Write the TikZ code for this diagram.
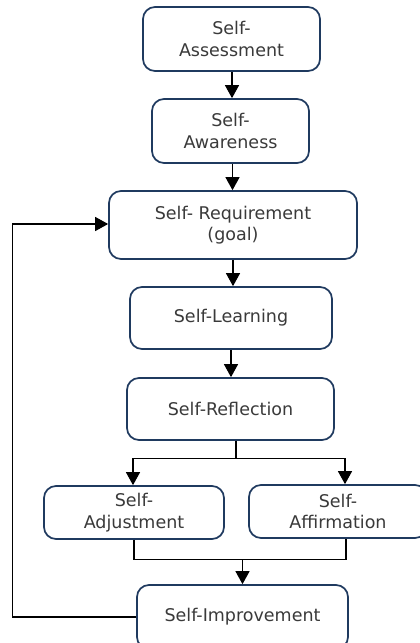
\documentclass[tikz,border=0pt]{standalone}
\usepackage{fontspec}
\setmainfont{DejaVu Sans}
\usetikzlibrary{arrows.meta}
\definecolor{boxline}{HTML}{1F3A5F}
\definecolor{txt}{HTML}{3A3A3A}
\begin{document}
\begin{tikzpicture}[x=1pt,y=-1pt,
  box/.style={draw=boxline, line width=1.7pt, rounded corners=12pt, fill=white,
    align=center, text=txt, font=\fontsize{17.5}{21.5}\selectfont, inner sep=0pt},
  arr/.style={draw=black, line width=1.2pt, -{Triangle[width=14pt,length=13pt]}},
  ln/.style={draw=black, line width=1.2pt}]
\useasboundingbox (0,0) rectangle (420,643);
\clip (0,0) rectangle (420,643);
\fill[white] (0,0) rectangle (420,643);
\node[box, minimum width=177pt, minimum height=64pt] (b1) at (231.5,39) {Self-\\Assessment};
\node[box, minimum width=157pt, minimum height=64pt] (b2) at (230.5,131) {Self-\\Awareness};
\node[box, minimum width=248pt, minimum height=68pt] (b3) at (233,225) {Self- Requirement\\(goal)};
\node[box, minimum width=202pt, minimum height=62pt] (b4) at (231,318) {Self-Learning};
\node[box, minimum width=207pt, minimum height=62pt] (b5) at (230.5,409) {Self-Reflection};
\node[box, minimum width=180pt, minimum height=53pt] (b6) at (134,512.5) {Self-\\Adjustment};
\node[box, minimum width=178pt, minimum height=53pt] (b7) at (338,511.5) {Self-\\Affirmation};
\node[box, minimum width=211pt, minimum height=64pt] (b8) at (242.5,617) {Self-Improvement};
\draw[arr] ([xshift=0.5pt]b1.south) -- ([xshift=0.5pt]b1.south |- b2.north);
\draw[arr] ([xshift=2pt]b2.south) -- ([xshift=2pt]b2.south |- b3.north);
\draw[arr] (b3.south) -- (b3.south |- b4.north);
\draw[arr] (b4.south) -- (b4.south |- b5.north);
\draw[ln] ([xshift=5.5pt]b5.south) -- ++(0,18) coordinate (s);
\draw[arr] (s) -| ([xshift=-1pt]b6.north);
\draw[arr] (s) -| ([xshift=7pt]b7.north);
\draw[ln] (b6.south) -- ++(0,20) coordinate (m) -| ([xshift=8pt]b7.south);
\coordinate (mc) at (b8.north |- m);
\draw[arr] (mc) -- (b8.north);
\draw[arr] (b8.west) -- ++(-124,0) |- ([yshift=1pt]b3.west);
\end{tikzpicture}
\end{document}
